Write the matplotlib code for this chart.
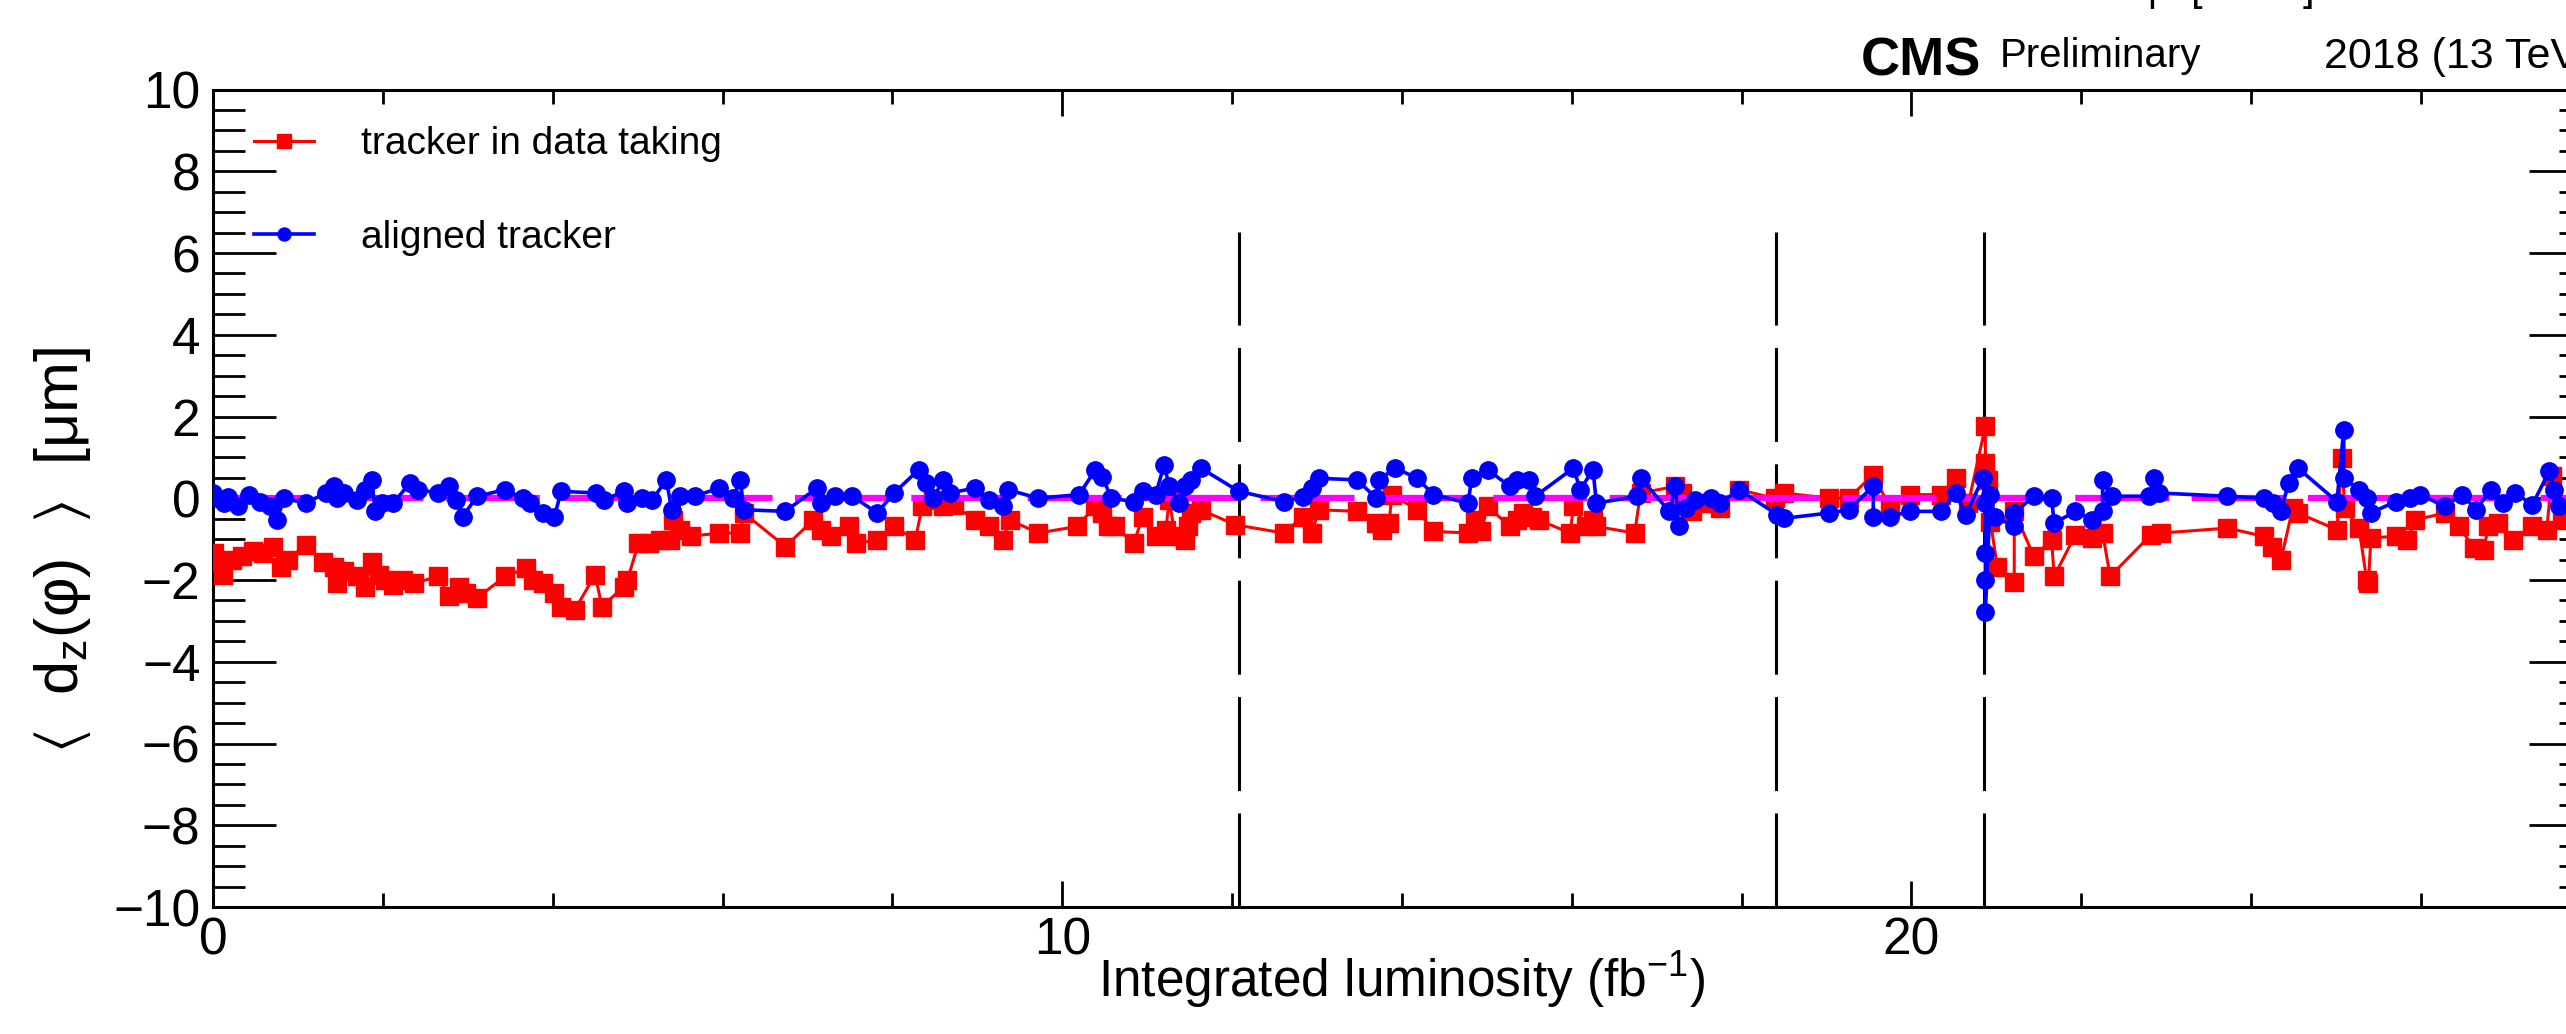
import matplotlib
matplotlib.use("Agg")
import matplotlib.pyplot as plt
from matplotlib.ticker import MultipleLocator

plt.rcParams['font.family'] = ['Liberation Sans', 'DejaVu Sans']
plt.rcParams['mathtext.fontset'] = 'custom'
plt.rcParams['mathtext.rm'] = 'Liberation Sans'
plt.rcParams['mathtext.it'] = 'Liberation Sans:italic'
plt.rcParams['mathtext.fallback'] = 'stixsans'
plt.rcParams['lines.scale_dashes'] = False

# tracker in data taking (red squares)
red_lumi = [0.01, 0.05, 0.12, 0.22, 0.34, 0.47, 0.59, 0.71, 0.80, 0.88, 1.09, 1.29, 1.42, 1.46,
            1.54, 1.70, 1.79, 1.87, 1.95, 2.03, 2.12, 2.24, 2.37, 2.65, 2.78, 2.90, 2.98, 3.11,
            3.44, 3.69, 3.77, 3.89, 4.02, 4.10, 4.26, 4.50, 4.58, 4.84, 4.88, 5.01, 5.13, 5.26,
            5.38, 5.42, 5.50, 5.63, 5.96, 6.21, 6.25, 6.74, 7.07, 7.16, 7.28, 7.49, 7.57, 7.82,
            8.02, 8.27, 8.35, 8.48, 8.60, 8.72, 8.97, 9.14,
            9.30, 9.38, 9.72, 10.17, 10.39, 10.47, 10.54, 10.62, 10.84, 10.95, 11.10, 11.22,
            11.26, 11.33, 11.44, 11.48, 11.52, 11.63, 12.04, 12.61, 12.83, 12.94, 13.02, 13.47,
            13.70, 13.77, 13.85, 13.88, 14.18, 14.37, 14.78, 14.86, 14.93, 15.01, 15.27, 15.35,
            15.42, 15.53, 15.61, 15.98, 16.02, 16.17, 16.25, 16.29, 16.74, 16.81, 17.22, 17.30,
            17.41, 17.60, 17.75, 17.97, 18.39, 18.50,
            19.03, 19.26, 19.55, 19.75, 19.98, 20.35, 20.52, 20.67, 20.87, 20.87, 20.90, 20.93,
            21.01, 21.21, 21.21, 21.44, 21.65, 21.68, 21.93, 22.13, 22.25, 22.34, 22.82, 22.94,
            23.72, 24.15, 24.24, 24.35, 24.49, 24.55, 25.01, 25.07, 25.10, 25.27, 25.36, 25.38,
            25.41, 25.70, 25.84, 25.93, 26.28, 26.45, 26.62, 26.74, 26.79, 26.91, 27.08, 27.31,
            27.48, 27.54, 27.66]
red_dz = [-1.34, -1.55, -1.87, -1.50, -1.42, -1.30, -1.34, -1.18, -1.67, -1.51, -1.14, -1.55, -1.67, -2.08,
          -1.79, -1.91, -2.16, -1.55, -1.87, -2.00, -2.12, -2.00, -2.08, -1.91, -2.40, -2.16, -2.32, -2.44,
          -1.91, -1.71, -2.00, -2.08, -2.32, -2.65, -2.73, -1.87, -2.65, -2.16, -2.00, -1.10, -1.10, -1.02,
          -1.02, -0.53, -0.77, -0.93, -0.85, -0.85, -0.36, -1.18, -0.53, -0.77, -0.93, -0.69, -1.10, -1.02,
          -0.69, -1.02, -0.20, -0.04, -0.20, -0.16, -0.53, -0.69,
          -1.02, -0.53, -0.85, -0.69, -0.20, -0.36, -0.69, -0.69, -1.10, -0.45, -0.93, -0.77,
          -0.04, -0.93, -1.02, -0.69, -0.36, -0.28, -0.65, -0.85, -0.45, -0.85, -0.28, -0.32,
          -0.61, -0.77, -0.61, 0.09, -0.28, -0.81, -0.85, -0.53, -0.81, -0.20, -0.69, -0.53,
          -0.36, -0.45, -0.53, -0.85, -0.20, -0.69, -0.53, -0.69, -0.85, 0.13, 0.29, 0.13,
          -0.32, -0.12, -0.24, 0.21, 0.00, 0.13,
          0.00, 0.00, 0.58, -0.24, 0.09, 0.09, 0.49, -0.12, 1.76, 0.86, 0.45, -0.57,
          -1.67, -2.04, -0.32, -1.42, -1.02, -1.91, -0.89, -0.97, -0.85, -1.91, -0.89, -0.85,
          -0.73, -0.93, -1.18, -1.51, -0.24, -0.36, -0.77, 0.98, -0.24, -0.73, -2.00, -2.08,
          -0.97, -0.93, -1.02, -0.53, -0.36, -0.69, -1.22, -1.26, -0.69, -0.61, -1.02, -0.69,
          -0.77, 0.54, -0.53]

# aligned tracker (blue circles)
blue_lumi = [0.00, 0.05, 0.13, 0.18, 0.30, 0.42, 0.55, 0.67, 0.75, 0.84, 1.09, 1.33, 1.42, 1.46,
             1.54, 1.70, 1.79, 1.87, 1.91, 1.99, 2.12, 2.32, 2.41, 2.65, 2.78, 2.86, 2.94, 3.11,
             3.44, 3.65, 3.73, 3.89, 4.02, 4.10, 4.51, 4.60, 4.84, 4.88, 5.05, 5.17, 5.34, 5.40,
             5.50, 5.67, 5.96, 6.12, 6.21, 6.25, 6.74, 7.11, 7.16, 7.32, 7.53, 7.82, 8.02, 8.31,
             8.39, 8.48, 8.60, 8.68, 8.97, 9.14,
             9.30, 9.36, 9.72, 10.20, 10.39, 10.47, 10.58, 10.84, 10.95, 11.10, 11.20, 11.26,
             11.37, 11.44, 11.52, 11.63, 12.08, 12.61, 12.83, 12.94, 13.02, 13.47, 13.70, 13.73,
             13.92, 14.18, 14.37, 14.78, 14.82, 15.01, 15.27, 15.35, 15.50, 15.57, 16.02, 16.10,
             16.25, 16.29, 16.77, 16.81, 17.15, 17.22, 17.26, 17.34, 17.45, 17.64, 17.75, 17.97,
             18.42, 18.50,
             19.03, 19.26, 19.55, 19.55, 19.75, 19.98, 20.35, 20.52, 20.64, 20.84, 20.87, 20.87,
             20.87, 20.87, 20.93, 20.98, 21.21, 21.21, 21.44, 21.65, 21.68, 21.93, 22.13, 22.25,
             22.25, 22.36, 22.80, 22.85, 22.91, 23.72, 24.15, 24.26, 24.35, 24.44, 24.55, 25.01,
             25.09, 25.09, 25.27, 25.36, 25.41, 25.70, 25.87, 25.99, 26.28, 26.48, 26.65, 26.82,
             26.97, 27.11, 27.31, 27.51, 27.57, 27.63]
blue_dz = [0.13, 0.00, -0.12, 0.04, -0.20, 0.09, -0.08, -0.20, -0.53, 0.00, -0.12, 0.13, 0.29, 0.00,
           0.13, -0.04, 0.21, 0.45, -0.32, -0.12, -0.12, 0.37, 0.21, 0.13, 0.29, -0.04, -0.45, 0.05,
           0.21, 0.00, -0.12, -0.36, -0.45, 0.17, 0.13, -0.04, 0.17, -0.12, 0.00, -0.04, 0.45, -0.28,
           0.05, 0.05, 0.25, 0.00, 0.45, -0.28, -0.32, 0.25, -0.12, 0.05, 0.05, -0.36, 0.13, 0.70,
           0.37, 0.00, 0.45, 0.13, 0.25, -0.04,
           -0.20, 0.21, 0.00, 0.09, 0.70, 0.53, 0.00, -0.08, 0.17, 0.09, 0.82, 0.29,
           -0.12, 0.29, 0.45, 0.74, 0.17, -0.08, 0.04, 0.25, 0.49, 0.45, 0.00, 0.45,
           0.74, 0.49, 0.09, -0.12, 0.49, 0.70, 0.29, 0.45, 0.45, 0.05, 0.74, 0.21,
           0.70, -0.12, 0.05, 0.49, -0.32, 0.29, -0.69, -0.24, -0.04, 0.00, -0.12, 0.21,
           -0.40, -0.49,
           -0.36, -0.28, 0.29, -0.45, -0.45, -0.32, -0.32, 0.13, -0.40, 0.49, -0.12, -1.34,
           -2.00, -2.77, 0.09, -0.45, -0.69, -0.36, 0.05, 0.00, -0.61, -0.32, -0.53, -0.32,
           0.45, 0.05, 0.05, 0.49, 0.13, 0.05, 0.00, -0.12, -0.32, 0.37, 0.74, -0.08,
           1.68, 0.49, 0.21, 0.00, -0.36, -0.08, 0.00, 0.09, -0.20, 0.09, -0.28, 0.21,
           -0.12, 0.13, -0.16, 0.66, 0.21, -0.20]

# alignment updates (vertical dashed lines)
update_lumi = [12.08, 18.40, 20.85]
update_top = 6.52

fig = plt.figure(figsize=(25.66, 10.34), dpi=100)
ax = fig.add_axes([0.0830, 0.1228, 0.9267, 0.7906])

ax.plot(red_lumi, red_dz, color='red', lw=2.2, marker='s', ms=13.5, mec='red', mfc='red',
        label='tracker in data taking', zorder=3)
ax.plot([0, 28], [0, 0], color='magenta', lw=4.5, dashes=(67.7, 16.1), zorder=4)
ax.plot(blue_lumi, blue_dz, color='blue', lw=2.6, marker='o', ms=12.5, mec='blue', mfc='blue',
        label='aligned tracker', zorder=5)

for xl in update_lumi:
    ax.plot([xl, xl], [-10, update_top], color='black', lw=2.2, dashes=(67.7, 16.1), zorder=2)

ax.set_xlim(0, 28)
ax.set_ylim(-10, 10)
ax.xaxis.set_major_locator(MultipleLocator(10))
ax.xaxis.set_minor_locator(MultipleLocator(2))
ax.yaxis.set_major_locator(MultipleLocator(2))
ax.yaxis.set_minor_locator(MultipleLocator(0.5))
ax.tick_params(which='both', direction='in', top=True, right=True, width=2, labelsize=37)
ax.tick_params(axis='x', which='major', length=19, pad=7)
ax.tick_params(axis='x', which='minor', length=10)
ax.tick_params(axis='y', which='major', length=45, pad=9)
ax.tick_params(axis='y', which='minor', length=23)
for s in ax.spines.values():
    s.set_linewidth(2.2)

ax.set_xlabel('Integrated luminosity (fb$^{-1}$)', fontsize=37)
ax.xaxis.set_label_coords(0.5, -0.052)
fig.text(0.0245, 0.468, r'$\langle$  d$_{\mathrm{z}}$(φ)  $\rangle$  [μm]', fontsize=44, rotation=90,
         ha='center', va='center')

leg = ax.legend(loc='upper left', bbox_to_anchor=(0.0172, 0.955), frameon=False, fontsize=28,
                handlelength=1.55, handletextpad=1.2, labelspacing=1.48, borderpad=0,
                borderaxespad=0, markerscale=0.75)

fig.text(1861 / 2566, 1 - 76 / 1034, 'CMS', fontsize=39, fontweight='bold', ha='left', va='baseline')
fig.text(2000 / 2566, 1 - 67 / 1034, 'Preliminary', fontsize=29, ha='left', va='baseline')
fig.text(2324 / 2566, 1 - 68 / 1034, '2018 (13 TeV)', fontsize=31, ha='left', va='baseline')
# bits of a header cut at the top edge
for xp, ch in [(2152, '|'), (2197, '['), (2308, ']')]:
    fig.text(xp / 2566, 1.0, ch, fontsize=30, ha='center', va='baseline')

fig.savefig('out.png', dpi=100)
